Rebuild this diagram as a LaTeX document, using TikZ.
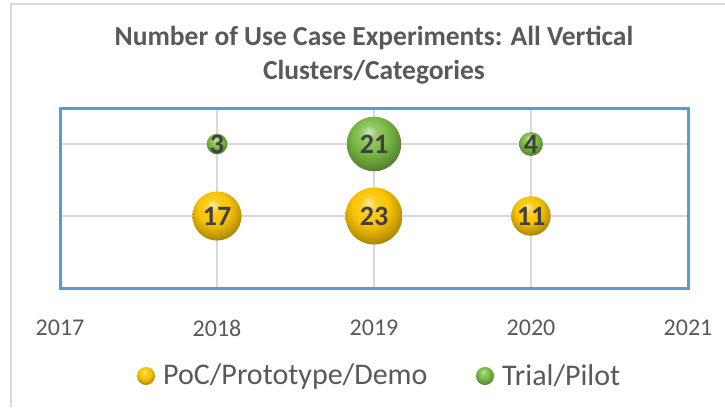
\documentclass[tikz,border=0pt]{standalone}
\usepackage{fontspec}
\setmainfont{Carlito}
\definecolor{gold}{RGB}{250,196,0}
\definecolor{gruen}{RGB}{122,186,68}
\definecolor{rahmenblau}{RGB}{91,155,213}
\definecolor{gitter}{RGB}{217,217,217}
\definecolor{textgrau}{RGB}{89,89,89}
\definecolor{zahlgrau}{RGB}{64,64,64}
\pgfdeclareradialshading{goldkugel}{\pgfpoint{-5bp}{12bp}}{color(0bp)=(gold!35!white); color(7bp)=(gold!85!white);
  color(16bp)=(gold); color(24bp)=(gold!82!black); color(32bp)=(gold!62!black); color(42bp)=(gold!48!black); color(50bp)=(gold!45!black)}
\pgfdeclareradialshading{gruenkugel}{\pgfpoint{-5bp}{12bp}}{color(0bp)=(gruen!35!white); color(7bp)=(gruen!80!white);
  color(16bp)=(gruen); color(24bp)=(gruen!82!black); color(32bp)=(gruen!62!black); color(42bp)=(gruen!48!black); color(50bp)=(gruen!45!black)}
\tikzset{
  blase/.style={circle, inner sep=0pt, minimum size=#1},
  zahl/.style={inner sep=0pt, text=zahlgrau, font=\fontsize{28}{30}\selectfont\bfseries},
  jahr/.style={inner sep=0pt, text=textgrau, font=\fontsize{24}{26}\selectfont},
  legtext/.style={inner sep=0pt, anchor=west, text=textgrau, font=\fontsize{30}{32}\selectfont}
}
\begin{document}
\begin{tikzpicture}[x=1pt, y=-1pt]
            \useasboundingbox (0,0) rectangle (725,407);
            % Rahmen
            \draw [gitter, line width=1.5pt] (11,407) -- (11,4) -- (725,4);
            % Titel
            \node [text=textgrau, align=center, font=\fontsize{27.5}{34}\selectfont\bfseries] (titel) at (374,55)
                {Number of Use Case Experiments: All Vertical\\Clusters/Categories};
            % Gitter
            \foreach \x in {217,374,531}
                \draw [gitter, line width=1.5pt] (\x,108) -- (\x,288);
            \foreach \y in {144,216}
                \draw [gitter, line width=1.5pt] (60,\y) -- (688,\y);
            \draw [rahmenblau, line width=3pt] (60,108) rectangle (688,288);
            % Achsenbeschriftung
            \foreach \j in {2017,...,2021}
                \node [jahr] (j\j) at ({60+(\j-2017)*157},328) {\j};
            % Blasen
            \foreach \j/\w [evaluate=\w as \d using {11.9*sqrt(\w)}] in {2018/17,2019/23,2020/11} {
                \node [blase=\d pt, shading=goldkugel] (p\j) at ({60+(\j-2017)*157},216) {};
                \node [zahl] (pz\j) at (p\j) {\w};
            }
            \foreach \j/\w [evaluate=\w as \d using {11.9*sqrt(\w)}] in {2018/3,2019/21,2020/4} {
                \node [blase=\d pt, shading=gruenkugel] (t\j) at ({60+(\j-2017)*157},144) {};
                \node [zahl] (tz\j) at (t\j) {\w};
            }
            % Legende
            \node [blase=18pt, shading=goldkugel] (lp) at (146,376) {};
            \node [legtext] (lpt) at (163,376) {PoC/Prototype/Demo};
            \node [blase=18pt, shading=gruenkugel] (lt) at (485,376) {};
            \node [legtext] (ltt) at (502,376) {Trial/Pilot};
\end{tikzpicture}
\end{document}
